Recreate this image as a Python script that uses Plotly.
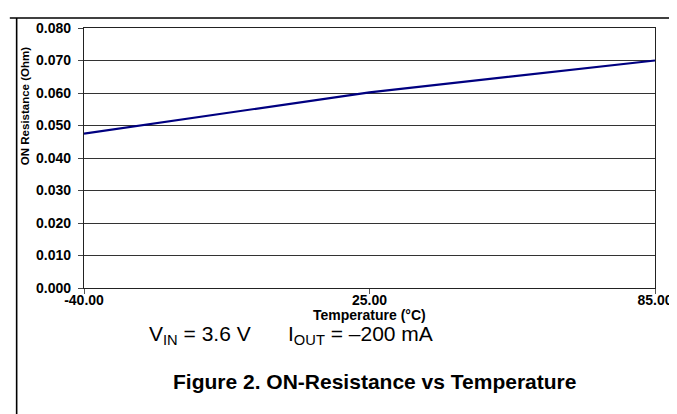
import plotly.graph_objects as go

# Data
temps_labels = ["-40.00", "25.00", "85.00"]
on_resistance = [0.0475, 0.0602, 0.0700]
y_ticks = [0.00, 0.01, 0.02, 0.03, 0.04, 0.05, 0.06, 0.07, 0.08]

W, H = 677, 414
L, R, T, B = 76, 16, 19, 134
pw, ph = W - L - R, H - T - B


def px(x):
    return (x - L) / pw


def py(y):
    return (H - B - y) / ph


fig = go.Figure()
fig.add_trace(go.Scatter(
    x=temps_labels, y=on_resistance, mode="lines",
    line=dict(color="#000080", width=2.2), showlegend=False, hoverinfo="skip"))

font_fam = "Liberation Sans, Arial, sans-serif"

fig.update_layout(
    width=W, height=H,
    margin=dict(l=L, r=R, t=T, b=B, pad=0),
    paper_bgcolor="white", plot_bgcolor="white",
    font=dict(family=font_fam, color="black"),
    xaxis=dict(
        type="category", categoryorder="array", categoryarray=temps_labels,
        range=[0, 2], showgrid=False, zeroline=False,
        showline=True, linecolor="#222", linewidth=1.2, mirror=True,
        ticks="outside", ticklen=5, tickcolor="#555", tickwidth=1,
        tickfont=dict(family=font_fam, size=14, color="black", weight="bold"),
        ticklabelstandoff=-6,
    ),
    yaxis=dict(
        range=[0, 0.08], tickvals=y_ticks, tickformat=".3f",
        showgrid=True, gridcolor="#333", gridwidth=1, zeroline=False,
        showline=True, linecolor="#222", linewidth=1.2, mirror=True,
        ticks="outside", ticklen=5, tickcolor="#444", tickwidth=1,
        tickfont=dict(family=font_fam, size=14, color="black", weight="bold"),
        ticklabelstandoff=4,
    ),
)

# Frame lines of the figure
fig.add_shape(type="line", xref="paper", yref="paper",
              x0=px(0), x1=px(677), y0=py(9), y1=py(9),
              line=dict(color="black", width=1.6))
fig.add_shape(type="line", xref="paper", yref="paper",
              x0=px(7), x1=px(7), y0=py(9), y1=py(414),
              line=dict(color="black", width=1.6))

# Texts
fig.add_annotation(text="<b>ON Resistance (Ohm)</b>", xref="paper", yref="paper",
                   x=px(15), y=py(97), textangle=-90, showarrow=False,
                   font=dict(size=11.5, family=font_fam, color="black"),
                   xanchor="center", yanchor="middle")
fig.add_annotation(text="<b>Temperature (°C)</b>", xref="paper", yref="paper",
                   x=px(368), y=py(307), showarrow=False,
                   font=dict(size=14, family=font_fam, color="black"),
                   xanchor="center", yanchor="middle")
fig.add_annotation(text="V<sub>IN</sub> = 3.6 V", xref="paper", yref="paper",
                   x=px(141), y=py(327), showarrow=False,
                   font=dict(size=21, family=font_fam, color="black"),
                   xanchor="left", yanchor="middle")
fig.add_annotation(text="I<sub>OUT</sub> = \u2013200 mA", xref="paper", yref="paper",
                   x=px(283), y=py(327), showarrow=False,
                   font=dict(size=21, family=font_fam, color="black"),
                   xanchor="left", yanchor="middle")
fig.add_annotation(text="<b>Figure 2. ON-Resistance vs Temperature</b>", xref="paper", yref="paper",
                   x=px(374), y=py(374), showarrow=False,
                   font=dict(size=21, family=font_fam, color="black"),
                   xanchor="center", yanchor="middle")

fig.write_html("out.html")
